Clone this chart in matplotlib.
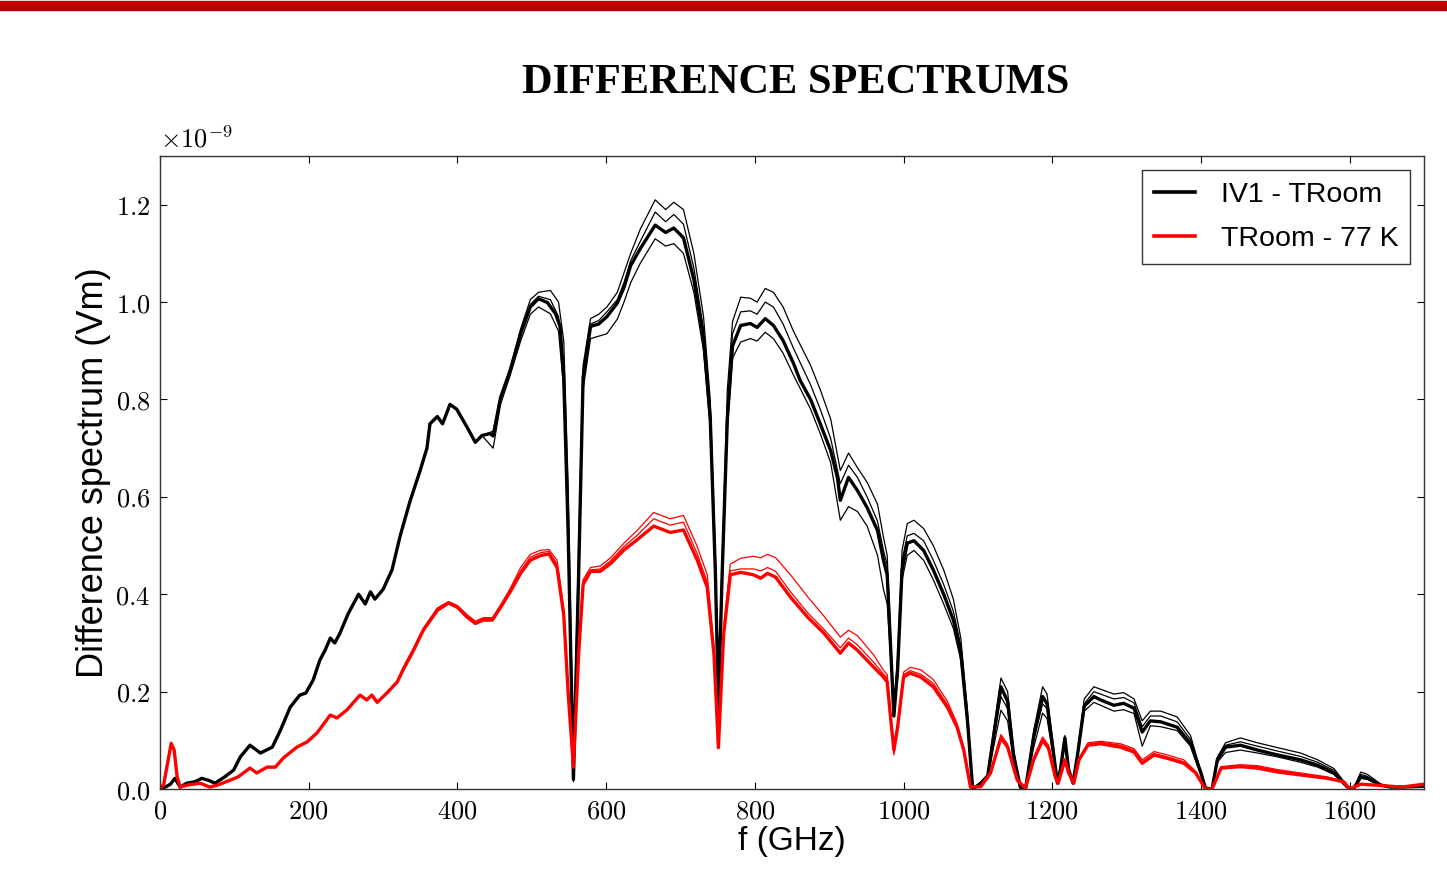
import matplotlib
matplotlib.use('Agg')
import matplotlib.pyplot as plt
from matplotlib.patches import Rectangle
from matplotlib.ticker import FuncFormatter, MultipleLocator

plt.rcParams['mathtext.fontset'] = 'cm'

# values in units of 1e-9 Vm, (f in GHz, value)
IV1_MAIN = [
    (0, 0), (7, 0.004), (14, 0.01), (20, 0.022), (27, 0.004), (36, 0.012), (47, 0.015), (56, 0.022),
    (65, 0.018), (74, 0.012), (87, 0.025), (99, 0.039), (108, 0.066), (121, 0.09), (135, 0.074),
    (151, 0.086), (162, 0.121), (175, 0.168), (188, 0.193), (196, 0.197), (206, 0.224), (215, 0.265),
    (222, 0.285), (229, 0.31), (235, 0.30), (242, 0.32), (253, 0.36), (267, 0.40), (276, 0.38),
    (283, 0.405), (289, 0.39), (300, 0.41), (312, 0.45), (323, 0.52), (336, 0.59), (350, 0.655),
    (359, 0.70), (363, 0.75), (373, 0.765), (380, 0.75), (390, 0.79), (399, 0.78), (413, 0.743),
    (424, 0.712), (433, 0.726), (444, 0.73), (448, 0.725), (458, 0.804), (471, 0.86), (485, 0.935),
    (498, 0.99), (509, 1.007), (521, 0.999), (532, 0.976), (538, 0.95), (543, 0.844), (549, 0.52),
    (556, 0.02), (563, 0.44), (569, 0.845), (579, 0.95), (590, 0.955), (601, 0.97), (615, 0.998),
    (624, 1.03), (633, 1.075), (646, 1.11), (666, 1.158), (680, 1.143), (691, 1.152), (704, 1.132),
    (718, 1.046), (731, 0.925), (740, 0.763), (747, 0.44), (751, 0.17), (756, 0.44), (763, 0.76),
    (770, 0.91), (781, 0.952), (794, 0.956), (803, 0.948), (814, 0.966), (825, 0.952), (838, 0.921),
    (852, 0.874), (861, 0.839), (875, 0.80), (888, 0.75), (902, 0.695), (911, 0.64), (915, 0.593),
    (926, 0.64), (938, 0.613), (951, 0.578), (965, 0.531), (973, 0.47), (978, 0.44), (983, 0.28),
    (987, 0.15), (992, 0.245), (998, 0.45), (1005, 0.505), (1014, 0.51), (1027, 0.49), (1040, 0.45),
    (1054, 0.40), (1067, 0.347), (1077, 0.28), (1086, 0.14), (1093, 0.0), (1104, 0.012), (1113, 0.025),
    (1121, 0.107), (1131, 0.21), (1140, 0.18), (1148, 0.07), (1157, 0.004), (1164, 0.0), (1175, 0.107),
    (1187, 0.19), (1193, 0.175), (1202, 0.07), (1207, 0.012), (1211, 0.04), (1217, 0.105), (1222, 0.04),
    (1228, 0.012), (1234, 0.07), (1243, 0.17), (1256, 0.19), (1265, 0.183), (1283, 0.172), (1296, 0.176),
    (1310, 0.166), (1321, 0.117), (1332, 0.14), (1346, 0.138), (1368, 0.127), (1386, 0.094),
    (1400, 0.033), (1406, 0.002), (1415, 0.0), (1422, 0.06), (1433, 0.086), (1453, 0.09), (1476, 0.08),
    (1503, 0.07), (1534, 0.06), (1557, 0.049), (1579, 0.033), (1597, 0.004), (1605, 0.0), (1615, 0.025),
    (1624, 0.022), (1642, 0.008), (1655, 0.004), (1670, 0.004), (1685, 0.005), (1700, 0.006),
]

IV1_HI2 = [
    (433, 0.726), (448, 0.735), (458, 0.805), (471, 0.865), (485, 0.945), (498, 1.005), (509, 1.02),
    (525, 1.024), (536, 1.0), (543, 0.92), (549, 0.62), (556, 0.05), (563, 0.5), (569, 0.87),
    (579, 0.966), (590, 0.975), (601, 0.99), (615, 1.02), (624, 1.06), (633, 1.10), (646, 1.15),
    (666, 1.21), (680, 1.19), (691, 1.205), (704, 1.19), (718, 1.10), (731, 0.97), (740, 0.80),
    (747, 0.48), (751, 0.2), (756, 0.47), (763, 0.82), (770, 0.96), (781, 1.01), (794, 1.008),
    (803, 1.0), (814, 1.028), (825, 1.02), (838, 0.99), (852, 0.94), (875, 0.87), (888, 0.82),
    (902, 0.76), (915, 0.654), (926, 0.69), (938, 0.66), (951, 0.63), (965, 0.585), (973, 0.517),
    (978, 0.48), (983, 0.3), (987, 0.17), (992, 0.27), (998, 0.49), (1005, 0.545), (1014, 0.552),
    (1027, 0.535), (1040, 0.50), (1054, 0.45), (1067, 0.39), (1077, 0.31), (1086, 0.16), (1093, 0.0),
    (1104, 0.015), (1113, 0.03), (1121, 0.12), (1131, 0.228), (1140, 0.2), (1148, 0.08), (1157, 0.005),
    (1164, 0.0), (1175, 0.12), (1187, 0.21), (1193, 0.195), (1202, 0.08), (1207, 0.012), (1211, 0.04),
    (1217, 0.11), (1222, 0.04), (1228, 0.012), (1234, 0.075), (1243, 0.185), (1256, 0.21), (1265, 0.205),
    (1283, 0.195), (1296, 0.198), (1310, 0.185), (1321, 0.14), (1332, 0.16), (1346, 0.16), (1368, 0.148),
    (1386, 0.11), (1400, 0.035), (1406, 0.002), (1415, 0.0), (1422, 0.065), (1433, 0.095), (1453, 0.105),
    (1476, 0.095), (1503, 0.085), (1534, 0.074), (1557, 0.06), (1579, 0.042), (1597, 0.006), (1605, 0.0),
    (1615, 0.035), (1624, 0.03), (1642, 0.01), (1655, 0.004),
]

IV1_HI1 = [
    (433, 0.726), (448, 0.73), (458, 0.80), (471, 0.86), (485, 0.94), (498, 0.995), (509, 1.012),
    (525, 1.005), (536, 0.97), (543, 0.87), (549, 0.55), (556, 0.03), (563, 0.46), (569, 0.855),
    (579, 0.955), (590, 0.962), (601, 0.98), (615, 1.005), (624, 1.04), (633, 1.085), (646, 1.125),
    (666, 1.185), (680, 1.165), (691, 1.18), (704, 1.16), (718, 1.07), (731, 0.945), (740, 0.78),
    (747, 0.45), (751, 0.18), (756, 0.45), (763, 0.78), (770, 0.935), (781, 0.98), (794, 0.982),
    (803, 0.975), (814, 1.0), (825, 0.99), (838, 0.955), (852, 0.905), (875, 0.83), (888, 0.78),
    (902, 0.72), (915, 0.627), (926, 0.665), (938, 0.64), (951, 0.60), (965, 0.55), (973, 0.49),
    (978, 0.46), (983, 0.29), (987, 0.16), (992, 0.26), (998, 0.47), (1005, 0.52), (1014, 0.525),
    (1027, 0.51), (1040, 0.47), (1054, 0.42), (1067, 0.365), (1077, 0.295), (1086, 0.15), (1093, 0.0),
    (1104, 0.012), (1113, 0.025), (1121, 0.1), (1131, 0.19), (1140, 0.165), (1148, 0.065), (1157, 0.004),
    (1164, 0.0), (1175, 0.1), (1187, 0.175), (1193, 0.165), (1202, 0.065), (1207, 0.012), (1211, 0.038),
    (1217, 0.1), (1222, 0.038), (1228, 0.012), (1234, 0.07), (1243, 0.175), (1256, 0.2), (1265, 0.195),
    (1283, 0.185), (1296, 0.188), (1310, 0.177), (1321, 0.128), (1332, 0.15), (1346, 0.15), (1368, 0.138),
    (1386, 0.102), (1400, 0.034), (1406, 0.002), (1415, 0.0), (1422, 0.062), (1433, 0.09), (1453, 0.097),
    (1476, 0.088), (1503, 0.078), (1534, 0.067), (1557, 0.055), (1579, 0.038), (1597, 0.005), (1605, 0.0),
    (1615, 0.03), (1624, 0.026), (1642, 0.009), (1655, 0.004),
]

IV1_LO = [
    (433, 0.726), (448, 0.70), (458, 0.79), (471, 0.85), (485, 0.92), (498, 0.975), (509, 0.99),
    (525, 0.976), (536, 0.94), (543, 0.82), (549, 0.5), (556, 0.015), (563, 0.42), (569, 0.82),
    (579, 0.925), (590, 0.93), (601, 0.935), (615, 0.965), (624, 1.0), (633, 1.04), (646, 1.08),
    (666, 1.13), (680, 1.115), (691, 1.12), (704, 1.10), (718, 1.02), (731, 0.90), (740, 0.74),
    (747, 0.42), (751, 0.16), (756, 0.42), (763, 0.74), (770, 0.885), (781, 0.918), (794, 0.925),
    (803, 0.92), (814, 0.938), (825, 0.925), (838, 0.895), (852, 0.85), (875, 0.78), (888, 0.73),
    (902, 0.67), (915, 0.552), (926, 0.58), (938, 0.57), (951, 0.54), (965, 0.48), (973, 0.41),
    (978, 0.38), (983, 0.26), (987, 0.15), (992, 0.23), (998, 0.43), (1005, 0.48), (1014, 0.49),
    (1027, 0.47), (1040, 0.43), (1054, 0.38), (1067, 0.33), (1077, 0.265), (1086, 0.13), (1093, 0.0),
    (1104, 0.01), (1113, 0.02), (1121, 0.085), (1131, 0.162), (1140, 0.14), (1148, 0.055), (1157, 0.003),
    (1164, 0.0), (1175, 0.085), (1187, 0.156), (1193, 0.145), (1202, 0.06), (1207, 0.012), (1211, 0.035),
    (1217, 0.09), (1222, 0.035), (1228, 0.012), (1234, 0.065), (1243, 0.16), (1256, 0.178), (1265, 0.172),
    (1283, 0.16), (1296, 0.163), (1310, 0.155), (1321, 0.088), (1332, 0.13), (1346, 0.128), (1368, 0.12),
    (1386, 0.088), (1400, 0.03), (1406, 0.002), (1415, 0.0), (1422, 0.055), (1433, 0.075), (1453, 0.08),
    (1476, 0.074), (1503, 0.066), (1534, 0.055), (1557, 0.045), (1579, 0.03), (1597, 0.004), (1605, 0.0),
    (1615, 0.022), (1624, 0.02), (1642, 0.007), (1655, 0.004),
]

K77_MAIN = [
    (0, 0), (5, 0.01), (11, 0.06), (15, 0.094), (19, 0.08), (23, 0.025), (27, 0.004), (36, 0.008),
    (45, 0.01), (54, 0.012), (67, 0.004), (77, 0.008), (94, 0.018), (105, 0.025), (121, 0.043),
    (130, 0.033), (144, 0.045), (155, 0.045), (166, 0.064), (184, 0.086), (198, 0.097), (211, 0.115),
    (229, 0.152), (238, 0.146), (251, 0.162), (269, 0.193), (278, 0.183), (285, 0.193), (292, 0.178),
    (305, 0.197), (319, 0.22), (327, 0.245), (341, 0.285), (354, 0.326), (373, 0.367), (388, 0.382),
    (400, 0.373), (413, 0.353), (424, 0.34), (435, 0.347), (447, 0.347), (458, 0.373), (471, 0.405),
    (485, 0.443), (498, 0.47), (511, 0.479), (523, 0.483), (534, 0.455), (543, 0.357), (549, 0.195),
    (556, 0.045), (563, 0.277), (569, 0.42), (579, 0.447), (592, 0.447), (606, 0.463), (624, 0.491),
    (641, 0.511), (664, 0.54), (686, 0.527), (704, 0.532), (722, 0.472), (736, 0.414), (745, 0.277),
    (751, 0.085), (758, 0.317), (767, 0.44), (781, 0.445), (798, 0.44), (808, 0.433), (817, 0.443),
    (828, 0.435), (848, 0.394), (871, 0.353), (893, 0.32), (915, 0.279), (926, 0.30), (938, 0.285),
    (960, 0.25), (973, 0.23), (978, 0.22), (983, 0.14), (987, 0.08), (992, 0.127), (1000, 0.23),
    (1009, 0.238), (1023, 0.23), (1040, 0.21), (1059, 0.168), (1072, 0.127), (1081, 0.08), (1090, 0.004),
    (1104, 0.005), (1117, 0.033), (1131, 0.105), (1140, 0.086), (1153, 0.018), (1164, 0.002), (1175, 0.06),
    (1187, 0.10), (1195, 0.084), (1204, 0.025), (1208, 0.012), (1217, 0.06), (1222, 0.033), (1229, 0.012),
    (1236, 0.06), (1248, 0.09), (1265, 0.093), (1292, 0.086), (1310, 0.076), (1321, 0.053), (1337, 0.07),
    (1355, 0.063), (1377, 0.053), (1393, 0.033), (1406, 0.0), (1415, 0.0), (1427, 0.043), (1453, 0.046),
    (1476, 0.043), (1503, 0.035), (1534, 0.029), (1570, 0.022), (1592, 0.015), (1600, 0.0), (1615, 0.01),
    (1645, 0.007), (1670, 0.004), (1690, 0.008), (1700, 0.01),
]

K77_HI2 = [
    (305, 0.197), (319, 0.222), (327, 0.25), (341, 0.29), (354, 0.33), (373, 0.372), (388, 0.385),
    (400, 0.377), (413, 0.358), (424, 0.345), (435, 0.352), (447, 0.352), (458, 0.378), (471, 0.412),
    (485, 0.455), (498, 0.482), (511, 0.49), (523, 0.492), (534, 0.47), (543, 0.37), (549, 0.2),
    (556, 0.05), (563, 0.29), (569, 0.43), (579, 0.455), (592, 0.458), (606, 0.475), (624, 0.505),
    (641, 0.53), (664, 0.568), (686, 0.555), (704, 0.562), (722, 0.5), (736, 0.44), (745, 0.29),
    (751, 0.09), (758, 0.33), (767, 0.462), (781, 0.474), (798, 0.478), (808, 0.475), (817, 0.482),
    (828, 0.475), (848, 0.44), (871, 0.395), (893, 0.355), (915, 0.312), (926, 0.326), (938, 0.315),
    (960, 0.275), (973, 0.244), (978, 0.235), (983, 0.15), (987, 0.075), (992, 0.13), (1000, 0.24),
    (1009, 0.25), (1023, 0.245), (1040, 0.225), (1059, 0.18), (1072, 0.135), (1081, 0.085), (1090, 0.005),
    (1104, 0.006), (1117, 0.035), (1131, 0.112), (1140, 0.092), (1153, 0.02), (1164, 0.002), (1175, 0.065),
    (1187, 0.107), (1195, 0.09), (1204, 0.027), (1208, 0.012), (1217, 0.062), (1222, 0.034), (1229, 0.012),
    (1236, 0.063), (1248, 0.095), (1265, 0.098), (1292, 0.093), (1310, 0.083), (1321, 0.06), (1337, 0.077),
    (1355, 0.07), (1377, 0.06), (1393, 0.036), (1406, 0.0), (1415, 0.0), (1427, 0.046), (1453, 0.05),
    (1476, 0.048), (1503, 0.04), (1534, 0.033), (1570, 0.025), (1592, 0.016), (1600, 0.0), (1615, 0.011),
]

K77_HI1 = [
    (305, 0.197), (319, 0.22), (327, 0.247), (341, 0.287), (354, 0.328), (373, 0.37), (388, 0.384),
    (400, 0.375), (413, 0.355), (424, 0.342), (435, 0.35), (447, 0.35), (458, 0.376), (471, 0.408),
    (485, 0.448), (498, 0.476), (511, 0.485), (523, 0.488), (534, 0.462), (543, 0.362), (549, 0.198),
    (556, 0.045), (563, 0.283), (569, 0.425), (579, 0.45), (592, 0.452), (606, 0.469), (624, 0.498),
    (641, 0.52), (664, 0.555), (686, 0.542), (704, 0.548), (722, 0.485), (736, 0.425), (745, 0.283),
    (751, 0.085), (758, 0.322), (767, 0.448), (781, 0.452), (798, 0.452), (808, 0.448), (817, 0.455),
    (828, 0.447), (848, 0.405), (871, 0.362), (893, 0.328), (915, 0.29), (926, 0.31), (938, 0.296),
    (960, 0.26), (973, 0.236), (978, 0.228), (983, 0.145), (987, 0.07), (992, 0.12), (1000, 0.235),
    (1009, 0.243), (1023, 0.236), (1040, 0.217), (1059, 0.173), (1072, 0.13), (1081, 0.082), (1090, 0.004),
    (1104, 0.005), (1117, 0.034), (1131, 0.108), (1140, 0.089), (1153, 0.019), (1164, 0.002), (1175, 0.062),
    (1187, 0.103), (1195, 0.087), (1204, 0.026), (1208, 0.012), (1217, 0.061), (1222, 0.033), (1229, 0.012),
    (1236, 0.061), (1248, 0.092), (1265, 0.096), (1292, 0.09), (1310, 0.08), (1321, 0.056), (1337, 0.073),
    (1355, 0.066), (1377, 0.056), (1393, 0.034), (1406, 0.0), (1415, 0.0), (1427, 0.045), (1453, 0.048),
    (1476, 0.046), (1503, 0.038), (1534, 0.031), (1570, 0.023), (1592, 0.015), (1600, 0.0), (1615, 0.01),
]


def split(pairs):
    return [p[0] for p in pairs], [p[1] for p in pairs]


fig = plt.figure(figsize=(14.47, 8.94), dpi=100)
# red header bar of the slide
fig.patches.append(Rectangle((0, 1 - 9.5 / 894), 1, 8 / 894, transform=fig.transFigure,
                             figure=fig, color='#c00000', zorder=0))
fig.text(0.5498, 1 - 83 / 894, 'DIFFERENCE SPECTRUMS', ha='center', va='center',
         fontsize=30.5, weight='bold', family='Liberation Serif')

ax = fig.add_axes([0.1106, 0.1174, 0.8735, 0.7081])

for s in [IV1_HI2, IV1_HI1, IV1_LO]:
    ax.plot(*split(s), color='black', lw=0.9)
ax.plot(*split(IV1_MAIN), color='black', lw=2.4, label='IV1 - TRoom')
for s in [K77_HI2, K77_HI1]:
    ax.plot(*split(s), color='red', lw=0.9)
ax.plot(*split(K77_MAIN), color='red', lw=2.4, label='TRoom - 77 K')

ax.set_xlim(0, 1700)
ax.set_ylim(0, 1.3)
ax.xaxis.set_major_locator(MultipleLocator(200))
ax.yaxis.set_major_locator(MultipleLocator(0.2))
ax.xaxis.set_major_formatter(FuncFormatter(lambda v, p: r'$%d$' % round(v)))
ax.yaxis.set_major_formatter(FuncFormatter(lambda v, p: r'$%.1f$' % v))
ax.tick_params(direction='in', top=True, right=True, length=5, width=0.8, labelsize=19, pad=7)
for sp in ax.spines.values():
    sp.set_linewidth(1.0)
    sp.set_color('#333333')

ax.text(0, 1.004, r'$\times10^{-9}$', transform=ax.transAxes, fontsize=19, ha='left', va='bottom')

ax.set_xlabel('f (GHz)', fontsize=24, family='Liberation Sans', labelpad=1)
ax.set_ylabel('Difference spectrum (Vm)', fontsize=26, family='Liberation Sans', labelpad=3)

leg = ax.legend(loc='upper right', fancybox=False, edgecolor='black',
                handlelength=1.45, handletextpad=0.9, borderpad=0.4, labelspacing=0.66,
                prop={'family': 'Liberation Sans', 'size': 20.5})
leg.get_frame().set_linewidth(1.0)
for line in leg.get_lines():
    line.set_linewidth(2.6)

fig.savefig('out.png', dpi=100)
